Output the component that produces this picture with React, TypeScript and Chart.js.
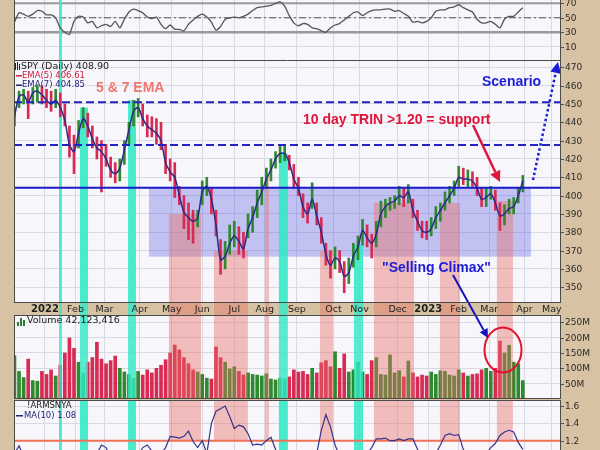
import React, { useEffect, useRef } from "react";
import { Chart, registerables } from "chart.js";
Chart.register(...registerables);

// ---------------- data (sampled every 3 trading days, day 0 = first session of 2022) ----------------
const startDay = -20;
const dayStep = 3;

const priceLow = [
  438, 448, 450, 442, 450, 451, 450, 448, 446, 448,
  443, 438, 421, 412, 426, 437, 432, 426, 420, 402,
  416, 410, 407, 408, 417, 428, 438, 443, 438, 432,
  432, 428, 425, 412, 408, 399, 395, 382, 376, 374,
  383, 395, 400, 390, 378, 357, 360, 368, 372, 368,
  366, 377, 380, 388, 395, 404, 408, 415, 418, 419,
  414, 404, 400, 388, 385, 393, 384, 374, 362, 355,
  360, 358, 347, 352, 361, 365, 373, 372, 366, 372,
  383, 388, 392, 393, 395, 394, 396, 388, 381, 377,
  376, 378, 382, 386, 392, 396, 400, 405, 406, 405,
  405, 400, 394, 394, 398, 392, 381, 384, 390, 390,
  396, 402,
];
const priceHigh = [
  448, 457, 458, 457, 459, 460, 460, 458, 457, 458,
  456, 450, 438, 433, 441, 448, 445, 438, 432, 430,
  428, 421, 418, 420, 430, 440, 452, 453, 450, 444,
  443, 442, 440, 428, 420, 418, 405, 400, 396, 392,
  392, 408, 410, 404, 392, 376, 375, 384, 386, 383,
  380, 390, 394, 403, 410, 415, 420, 424, 427, 427,
  422, 417, 410, 401, 396, 407, 396, 388, 374, 370,
  372, 370, 364, 366, 374, 378, 387, 384, 379, 386,
  397, 398, 399, 400, 405, 404, 406, 398, 392, 386,
  386, 388, 394, 396, 402, 405, 408, 416, 415, 414,
  413, 410, 404, 404, 405, 403, 396, 395, 398, 399,
  404, 411,
];
const priceEma = [
  443, 454, 455, 451, 456, 457, 455, 452, 450, 452,
  448, 441, 428, 424, 434, 442, 438, 431, 426, 424,
  420, 414, 412, 415, 425, 436, 446, 448, 442, 438,
  436, 434, 430, 418, 413, 410, 400, 391, 388, 386,
  388, 402, 405, 398, 384, 365, 367, 374, 378, 375,
  371, 382, 388, 396, 402, 409, 414, 420, 423, 423,
  418, 409, 404, 394, 390, 398, 389, 380, 368, 362,
  366, 364, 356, 358, 367, 372, 381, 377, 374, 379,
  390, 394, 396, 397, 400, 399, 402, 392, 386, 381,
  380, 382, 388, 392, 396, 400, 404, 410, 409, 409,
  408, 404, 398, 399, 401, 396, 389, 390, 393, 394,
  400, 408,
];
const volumeM = [
  141, 90, 70, 130, 60, 58, 90, 80, 95, 75,
  110, 150, 199, 165, 120, 85, 120, 135, 185, 130,
  115, 125, 140, 100, 88, 80, 68, 90, 78, 95,
  85, 100, 110, 128, 150, 176, 160, 135, 115, 95,
  88, 80, 68, 65, 170, 135, 120, 98, 105, 90,
  78, 85, 80, 78, 75, 82, 65, 62, 68, 65,
  72, 95, 88, 90, 80, 100, 85, 118, 125, 105,
  154, 100, 147, 88, 95, 120, 88, 80, 125, 135,
  80, 78, 144, 85, 92, 72, 124, 85, 72, 78,
  75, 88, 80, 92, 90, 78, 75, 95, 85, 75,
  80, 82, 95, 100, 90, 100, 189, 150, 175, 120,
  115, 60,
];
const rsiValues = [
  44, 57, 55, 52, 55, 60, 59, 54, 54, 50,
  36, 30, 27, 45, 52, 51, 43, 45, 36, 39,
  41, 38, 45, 36, 48, 58, 62, 60, 57, 51,
  49, 51, 41, 35, 40, 34, 34, 32, 41, 47,
  52, 55, 51, 44, 33, 38, 48, 50, 51, 50,
  52, 55, 60, 64, 65, 66, 67, 70, 72, 66,
  53, 43, 39, 42, 41, 36, 35, 32, 30, 36,
  40, 42, 47, 52, 57, 58, 53, 57, 60, 61,
  61, 62, 62, 59, 60, 56, 52, 44, 45, 43,
  45, 50, 59, 61, 61, 64, 65, 68, 64, 61,
  58, 48, 43, 43, 45, 41, 36, 48, 52, 52,
  58, 64,
];
const armsMa = [
  1.05, 1.14, 1.02, 0.95, 0.98, 1.0, 0.97, 0.95, 1.0, 1.02,
  0.98, 1.0, 1.03, 0.97, 0.95, 1.0, 1.02, 0.98, 1.05, 1.15,
  1.12, 1.0, 0.96, 0.98, 1.0, 0.95, 0.97, 1.02, 1.12, 1.15,
  1.08, 1.0, 1.05, 1.12, 1.25, 1.24, 1.23, 1.25, 1.31, 1.19,
  1.12, 1.2, 1.05, 1.4, 1.54, 1.57, 1.6, 1.48, 1.34, 1.38,
  1.36, 1.28, 1.15, 1.16, 1.15, 1.2, 1.24, 1.1, 0.98, 1.0,
  1.02, 1.05, 1.0, 0.97, 1.0, 1.03, 1.05, 1.32, 1.5, 1.36,
  1.15, 1.02, 0.98, 1.0, 1.03, 0.98, 1.0, 1.05, 1.12, 1.22,
  1.22, 1.23, 1.2, 1.2, 1.22, 1.2, 1.22, 1.22, 1.1, 1.0,
  0.98, 1.0, 1.05, 1.15, 1.26, 1.28, 1.26, 1.27, 1.1, 1.0,
  0.95, 0.98, 1.0, 1.05, 1.12, 1.17, 1.26, 1.3, 1.32, 1.3,
  1.18, 1.1,
];

const monthTicks = [0, 20, 39, 62, 83, 103, 124, 144, 165, 189, 206, 231, 251, 271, 291, 314, 332];
const monthLabels = ["2022", "Feb", "Mar", "Apr", "May", "Jun", "Jul", "Aug", "Sep", "Oct", "Nov", "Dec", "2023", "Feb", "Mar", "Apr", "May"];
const priceTicks = [350, 360, 370, 380, 390, 400, 410, 420, 430, 440, 450, 460, 470];
const rsiTicks = [10, 30, 50, 70];
const volumeTicks = [50, 100, 150, 200, 250];
const armsTicks = [1.2, 1.4, 1.6];

// shaded periods (trading-day units) and their tops in the price panel
const pinkFrom = [81.2, 110.7, 144.1, 180.1, 215.5, 258.7, 296];
const pinkTo = [102.2, 132.9, 146.7, 188.6, 241.7, 271.8, 306.5];
const pinkTop = [390, 370, 412, 370, 396, 396, 397];
const cyanFrom = [9.2, 22.9, 54.4, 153.2, 202.4];
const cyanTo = [11.1, 28.2, 59.6, 159.1, 208.3];
const cyanTop = [474, 448, 452, 423, 373];
const boxDays = [68.1, 318.3];
const boxPrices = [366.7, 404.3];
const dashedLevels = [451, 427.6];
const supportLevel = 404.3;
const trinLevel = 1.2;

const X_MIN = -20.3;
const X_MAX = 338;

// ---------------- style ----------------
const TAN = "#d7c3a4";
const PLOT_BG = "#f6f6fb";
const GRID = "#d9d9e4";
const PINK = "rgba(232,110,100,0.42)";
const CYAN = "rgba(50,232,198,0.88)";
const BOX = "rgba(86,86,226,0.33)";
const UP = "#2f8a2f";
const DOWN = "#d82a52";
const AXIS_FONT = "9px 'DejaVu Sans'";
const NOTE_FONT = "bold 14px 'Liberation Sans', Arial, sans-serif";

const dayOf = (i: number) => startDay + i * dayStep;
const candleColors = priceEma.map((v, i) => (i === 0 || v >= priceEma[i - 1] ? UP : DOWN));

function baseOptions(yMin: number, yMax: number, yTicks: number[], padTop: number): any {
  return {
    responsive: false,
    maintainAspectRatio: false,
    animation: false,
    events: [],
    layout: { padding: { left: 14, right: 0, top: padTop, bottom: 0 } },
    plugins: { legend: { display: false }, tooltip: { enabled: false } },
    scales: {
      x: {
        type: "linear",
        min: X_MIN,
        max: X_MAX,
        offset: false,
        afterBuildTicks: (s: any) => {
          s.ticks = monthTicks.map((v) => ({ value: v }));
        },
        afterFit: (s: any) => {
          s.height = 0;
        },
        ticks: { display: false },
        grid: { color: GRID, drawTicks: false, offset: false },
        border: { display: false },
      },
      y: {
        type: "linear",
        position: "right",
        min: yMin,
        max: yMax,
        beginAtZero: false,
        afterBuildTicks: (s: any) => {
          s.ticks = yTicks.map((v) => ({ value: v }));
        },
        afterFit: (s: any) => {
          s.width = 39;
        },
        ticks: { display: false },
        grid: { color: GRID, drawTicks: false },
        border: { display: false },
      },
    },
  };
}

function arrow(ctx: CanvasRenderingContext2D, x1: number, y1: number, x2: number, y2: number, color: string, width: number, dash: number[], head: number) {
  ctx.save();
  ctx.strokeStyle = color;
  ctx.fillStyle = color;
  ctx.lineWidth = width;
  ctx.setLineDash(dash);
  const a = Math.atan2(y2 - y1, x2 - x1);
  const bx = x2 - head * Math.cos(a);
  const by = y2 - head * Math.sin(a);
  ctx.beginPath();
  ctx.moveTo(x1, y1);
  ctx.lineTo(head > 0 ? bx : x2, head > 0 ? by : y2);
  ctx.stroke();
  ctx.setLineDash([]);
  if (head > 0) {
    const w = head * 0.5;
    ctx.beginPath();
    ctx.moveTo(x2, y2);
    ctx.lineTo(bx + w * Math.sin(a), by - w * Math.cos(a));
    ctx.lineTo(bx - w * Math.sin(a), by + w * Math.cos(a));
    ctx.closePath();
    ctx.fill();
  }
  ctx.restore();
}

function text(ctx: CanvasRenderingContext2D, s: string, x: number, y: number, color: string, font: string, align: CanvasTextAlign = "left") {
  ctx.save();
  ctx.font = font;
  ctx.fillStyle = color;
  ctx.textAlign = align;
  ctx.textBaseline = "middle";
  ctx.fillText(s, x, y);
  ctx.restore();
}

function fillBg(chart: any) {
  const { ctx, chartArea: a } = chart;
  ctx.save();
  ctx.fillStyle = PLOT_BG;
  ctx.fillRect(a.left, a.top, a.right - a.left, a.bottom - a.top);
  ctx.restore();
}

function vBand(chart: any, from: number, to: number, top: number, bottom: number, color: string) {
  const { ctx, chartArea: a, scales } = chart;
  const l = Math.max(a.left, scales.x.getPixelForValue(from));
  const r = Math.min(a.right, scales.x.getPixelForValue(to));
  ctx.save();
  ctx.fillStyle = color;
  ctx.fillRect(l, top, r - l, bottom - top);
  ctx.restore();
}

function hLine(chart: any, value: number, color: string, width: number, dash: number[]) {
  const { ctx, chartArea: a, scales } = chart;
  const y = scales.y.getPixelForValue(value);
  ctx.save();
  ctx.strokeStyle = color;
  ctx.lineWidth = width;
  ctx.setLineDash(dash);
  ctx.beginPath();
  ctx.moveTo(a.left, y);
  ctx.lineTo(a.right, y);
  ctx.stroke();
  ctx.restore();
}

function frameAndLabels(chart: any, ticks: number[], fmt: (v: number) => string, sides = "lrtb") {
  const { ctx, chartArea: a, scales } = chart;
  ctx.save();
  ctx.strokeStyle = "#4a4a4a";
  ctx.lineWidth = 1;
  ctx.beginPath();
  if (sides.includes("l")) { ctx.moveTo(a.left + 0.5, a.top); ctx.lineTo(a.left + 0.5, a.bottom); }
  if (sides.includes("r")) { ctx.moveTo(a.right - 0.5, a.top); ctx.lineTo(a.right - 0.5, a.bottom); }
  if (sides.includes("t")) { ctx.moveTo(a.left, a.top + 0.5); ctx.lineTo(a.right, a.top + 0.5); }
  if (sides.includes("b")) { ctx.moveTo(a.left, a.bottom - 0.5); ctx.lineTo(a.right, a.bottom - 0.5); }
  ctx.stroke();
  ctx.strokeStyle = "#555";
  for (const v of ticks) {
    const y = Math.round(scales.y.getPixelForValue(v)) + 0.5;
    ctx.beginPath();
    ctx.moveTo(a.right, y);
    ctx.lineTo(a.right + 3, y);
    ctx.stroke();
    text(ctx, fmt(v), a.right + 4, y, "#2a2a2a", AXIS_FONT);
  }
  ctx.restore();
}

// ---------------- chart configs ----------------
function rsiConfig(): any {
  const opts = baseOptions(-8.4, 74.6, rsiTicks, 0);
  return {
    type: "line",
    data: {
      datasets: [
        {
          data: rsiValues.map((v, i) => ({ x: dayOf(i), y: v })),
          borderColor: "#555555",
          borderWidth: 1.3,
          pointRadius: 0,
          tension: 0.2,
        },
      ],
    },
    options: opts,
    plugins: [
      {
        id: "rsiPanel",
        beforeDraw: (c: any) => fillBg(c),
        beforeDatasetsDraw: (c: any) => {
          hLine(c, 70, "#9a9a9a", 2, []);
          hLine(c, 30, "#9a9a9a", 2.5, []);
          hLine(c, 50, "#555", 1, [7, 3, 2, 3]);
          vBand(c, cyanFrom[0], cyanTo[0], c.chartArea.top, c.chartArea.bottom, CYAN);
        },
        afterDraw: (c: any) => frameAndLabels(c, rsiTicks, (v) => String(v), "lr"),
      },
    ],
  };
}

function priceConfig(): any {
  const opts = baseOptions(341.4, 474, priceTicks, 0);
  return {
    type: "bar",
    data: {
      datasets: [
        {
          type: "line",
          data: priceEma.map((v, i) => ({ x: dayOf(i), y: v })),
          borderColor: "#2c2a86",
          borderWidth: 1.5,
          pointRadius: 0,
          tension: 0.3,
          order: 0,
        },
        {
          type: "bar",
          data: priceLow.map((lo, i) => ({ x: dayOf(i), y: [lo, priceHigh[i]] })),
          backgroundColor: candleColors,
          barThickness: 2,
          grouped: false,
          order: 1,
        },
      ],
    },
    options: opts,
    plugins: [
      {
        id: "pricePanel",
        beforeDraw: (c: any) => fillBg(c),
        beforeDatasetsDraw: (c: any) => {
          const a = c.chartArea;
          const y = c.scales.y;
          const top = y.getPixelForValue(boxPrices[1]);
          const bot = y.getPixelForValue(boxPrices[0]);
          vBand(c, boxDays[0], boxDays[1], top, bot, BOX);
          pinkFrom.forEach((f, i) => vBand(c, f, pinkTo[i], y.getPixelForValue(pinkTop[i]), a.bottom, PINK));
          cyanFrom.forEach((f, i) => vBand(c, f, cyanTo[i], Math.max(a.top, y.getPixelForValue(cyanTop[i])), a.bottom, CYAN));
        },
        afterDatasetsDraw: (c: any) => {
          const ctx = c.ctx;
          dashedLevels.forEach((v) => hLine(c, v, "#2222c0", 2, [8, 4]));
          hLine(c, supportLevel, "#1a1ac8", 2, []);
          // legend
          ctx.save();
          ctx.fillStyle = "#222";
          ctx.fillRect(15, 3, 1, 7);
          ctx.fillRect(17, 2, 1, 8);
          ctx.fillRect(19, 4, 1, 6);
          ctx.restore();
          text(ctx, "SPY (Daily) 408.90", 21, 6.5, "#1a1a1a", "9.5px 'DejaVu Sans'");
          ctx.save();
          ctx.fillStyle = "#d0203c";
          ctx.fillRect(16, 15, 6, 1.5);
          ctx.fillStyle = "#24247a";
          ctx.fillRect(16, 24.5, 6, 1.5);
          ctx.restore();
          text(ctx, "EMA(5) 406.61", 22, 15.7, "#d0203c", "8.5px 'DejaVu Sans'");
          text(ctx, "EMA(7) 404.85", 22, 25, "#24247a", "8.5px 'DejaVu Sans'");
          // notes
          text(ctx, "5 & 7 EMA", 96, 28, "#ec7870", NOTE_FONT);
          text(ctx, "10 day TRIN >1.20 = support", 303, 60, "#e0153c", NOTE_FONT);
          text(ctx, "Scenario", 482, 22, "#1c1cd8", NOTE_FONT);
          text(ctx, "\"Selling Climax\"", 382, 208, "#1c1cd8", NOTE_FONT);
          arrow(ctx, 473, 65, 500, 122, "#e0153c", 2.5, [], 11);
          arrow(ctx, 533, 120, 558, 2, "#1c1cd8", 2.5, [2.5, 2.5], 11);
          arrow(ctx, 453, 215, 468.6, 243, "#1010c0", 2, [], 0);
        },
        afterDraw: (c: any) => frameAndLabels(c, priceTicks, (v) => String(v), "lrtb"),
      },
    ],
  };
}

function volumeConfig(): any {
  const opts = baseOptions(0, 273.8, volumeTicks, 12);
  return {
    type: "bar",
    data: {
      datasets: [
        {
          data: volumeM.map((v, i) => ({ x: dayOf(i), y: v })),
          backgroundColor: candleColors,
          barThickness: 3,
          grouped: false,
        },
      ],
    },
    options: opts,
    plugins: [
      {
        id: "volumePanel",
        beforeDraw: (c: any) => fillBg(c),
        afterDatasetsDraw: (c: any) => {
          const ctx = c.ctx;
          const a = c.chartArea;
          pinkFrom.forEach((f, i) => vBand(c, f, pinkTo[i], 0, a.bottom, PINK));
          cyanFrom.forEach((f, i) => vBand(c, f, cyanTo[i], 0, a.bottom, "rgba(50,232,198,0.8)"));
          monthTicks.forEach((d, i) => {
            const x = c.scales.x.getPixelForValue(d);
            const isYear = monthLabels[i].length === 4 && monthLabels[i] !== "June";
            text(ctx, monthLabels[i], x, 6.5, "#1e1e1e", isYear ? "bold 10px 'DejaVu Sans'" : "9.5px 'DejaVu Sans'", "center");
          });
          ctx.save();
          ctx.fillStyle = "#2e7d2e";
          ctx.fillRect(17, 19, 2, 4);
          ctx.fillRect(20, 15, 2, 8);
          ctx.fillRect(23, 17, 2, 6);
          ctx.restore();
          text(ctx, "Volume 42,123,416", 27, 18, "#1a1a1a", "9.5px 'DejaVu Sans'");
          ctx.save();
          ctx.strokeStyle = "#e41030";
          ctx.lineWidth = 2;
          ctx.beginPath();
          ctx.ellipse(503, 47, 18.5, 22.5, 0, 0, Math.PI * 2);
          ctx.stroke();
          ctx.restore();
          arrow(ctx, 468.6, 0, 488, 35, "#1010c0", 2, [], 9);
        },
        afterDraw: (c: any) => frameAndLabels(c, volumeTicks, (v) => v + "M", "lrtb"),
      },
    ],
  };
}

function armsConfig(): any {
  const opts = baseOptions(1.092, 1.67, armsTicks, 0);
  return {
    type: "line",
    data: {
      datasets: [
        {
          data: armsMa.map((v, i) => ({ x: dayOf(i), y: v })),
          borderColor: "#34348c",
          borderWidth: 1.2,
          pointRadius: 0,
          tension: 0,
        },
      ],
    },
    options: opts,
    plugins: [
      {
        id: "armsPanel",
        beforeDraw: (c: any) => fillBg(c),
        beforeDatasetsDraw: (c: any) => {
          const a = c.chartArea;
          const yT = c.scales.y.getPixelForValue(trinLevel);
          pinkFrom.forEach((f, i) => vBand(c, f, pinkTo[i], a.top, yT, PINK));
          cyanFrom.forEach((f, i) => vBand(c, f, cyanTo[i], a.top, a.bottom, CYAN));
          hLine(c, trinLevel, "#f07058", 2, []);
        },
        afterDatasetsDraw: (c: any) => {
          const ctx = c.ctx;
          text(ctx, "!ARMSNYA", 27, 6, "#1a1a1a", "8.5px 'DejaVu Sans'");
          ctx.save();
          ctx.fillStyle = "#24247a";
          ctx.fillRect(16, 15, 7, 1.5);
          ctx.restore();
          text(ctx, "MA(10) 1.08", 24, 15.5, "#24247a", "8.5px 'DejaVu Sans'");
        },
        afterDraw: (c: any) => frameAndLabels(c, armsTicks, (v) => v.toFixed(1), "lrt"),
      },
    ],
  };
}

export default function App() {
  const rsiRef = useRef<HTMLCanvasElement>(null);
  const priceRef = useRef<HTMLCanvasElement>(null);
  const volRef = useRef<HTMLCanvasElement>(null);
  const armsRef = useRef<HTMLCanvasElement>(null);

  useEffect(() => {
    const charts = [
      new Chart(rsiRef.current as HTMLCanvasElement, rsiConfig()),
      new Chart(priceRef.current as HTMLCanvasElement, priceConfig()),
      new Chart(volRef.current as HTMLCanvasElement, volumeConfig()),
      new Chart(armsRef.current as HTMLCanvasElement, armsConfig()),
    ];
    return () => charts.forEach((c) => c.destroy());
  }, []);

  const abs = (top: number, h: number): React.CSSProperties => ({ position: "absolute", left: 0, top, width: 600, height: h });

  return (
    <div style={{ position: "fixed", left: 0, top: 0, width: 600, height: 450, background: TAN, overflow: "hidden" }}>
      <canvas ref={rsiRef} width={600} height={60} style={abs(0, 60)} />
      <canvas ref={priceRef} width={600} height={243} style={abs(60, 243)} />
      <canvas ref={volRef} width={600} height={96} style={abs(303, 96)} />
      <canvas ref={armsRef} width={600} height={50} style={abs(400, 50)} />
    </div>
  );
}
